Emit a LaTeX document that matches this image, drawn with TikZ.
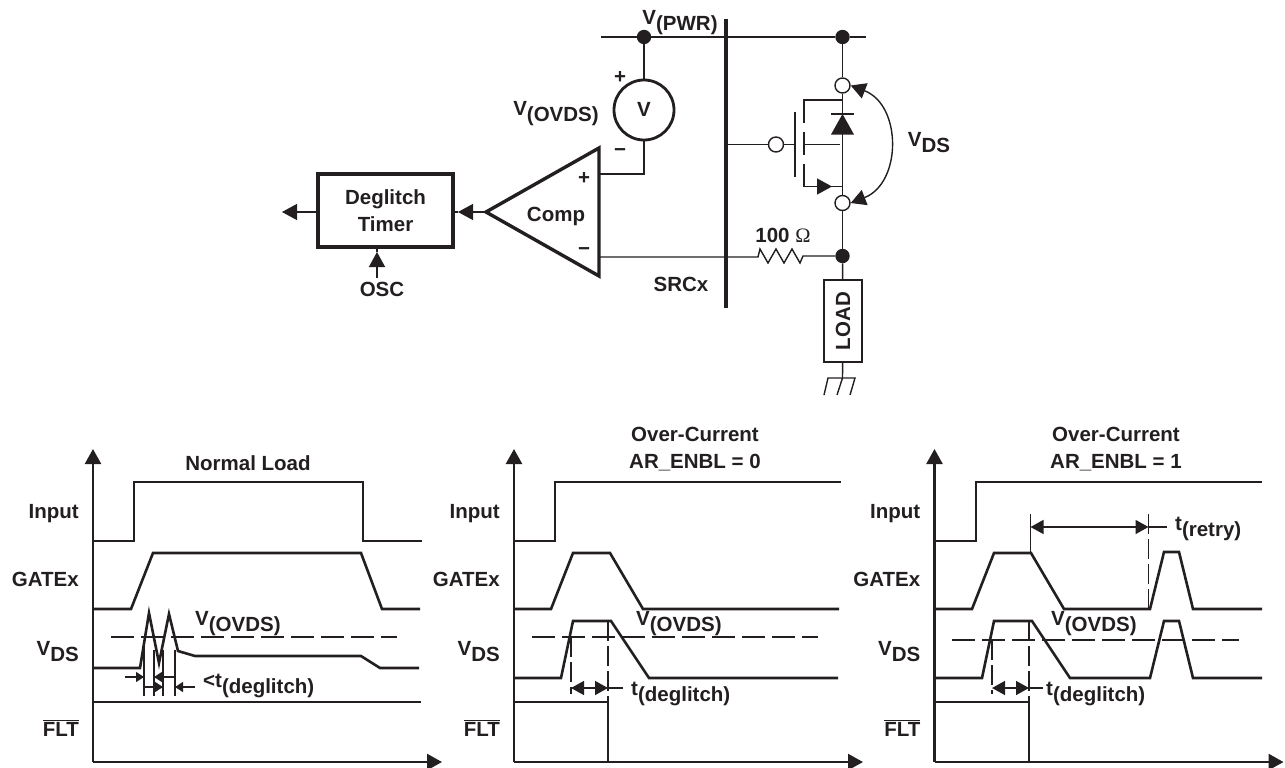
\documentclass[tikz,border=0pt]{standalone}
\usepackage{fontspec}
\setmainfont{Liberation Sans}
\newfontfamily\omegafont{Liberation Serif}
\usetikzlibrary{arrows.meta}
\usetikzlibrary{positioning}
\definecolor{ink}{HTML}{231F20}
\newcommand{\subtxt}[2]{#1\raisebox{-6pt}{#2}}
\tikzset{
  lbl/.style={inner sep=0pt, align=center, font=\fontsize{20.5}{27}\selectfont\bfseries},
  lblr/.style={lbl, anchor=east},
  lbll/.style={lbl, anchor=west},
  wire/.style={line width=1.4pt},
  wave/.style={line width=2.6pt, line join=miter},
  heavy/.style={line width=3.4pt},
  thresh/.style={line width=1.1pt, dash pattern=on 23pt off 7pt},
  guide/.style={line width=1.1pt, dash pattern=on 20pt off 5pt},
  dot/.style={circle, fill=ink, draw=none, minimum size=14.4pt, inner sep=0pt},
  hole/.style={circle, fill=white, draw=ink, line width=1.4pt, minimum size=15pt, inner sep=0pt},
  bighead/.style={-{Triangle[length=15pt,width=16pt]}},
  smallhead/.style={-{Triangle[length=8pt,width=10pt]}}
}
\begin{document}
\begin{tikzpicture}[x=1pt, y=-1pt, color=ink, text=ink]
\useasboundingbox (0,0) rectangle (1285,768);

% supply and switch
\node[dot] (pwrL) at (644,37) {};
\node[dot] (pwrR) at (842.5,37) {};
\node[hole] (drain) at (842.5,85.5) {};
\node[hole] (source) at (842.5,203) {};
\node[dot] (sense) at (842.5,256) {};
\coordinate (railL) at (601,37);
\coordinate (railR) at (866,37);
\draw[wire] (railL) -- (pwrL) -- (pwrR) -- (railR);
\draw[line width=3.6pt] (726,19) -- (726,308);
\draw[wire] (pwrR) -- (drain) -- (source) -- (sense);

% comparator
\coordinate (compTip) at (486,212);
\coordinate (compTop) at (599,148);
\coordinate (compBot) at (599,276);
\coordinate (compP) at (599,174);
\coordinate (compN) at (599,257);
\draw[heavy, line join=miter] (compTip) -- (compTop) -- (compBot) -- cycle;
\node[circle, draw, line width=2.8pt, minimum size=60pt, inner sep=0pt] (meter) at (644,110) {};
\node[lbl] (meterV) at (644,109) {V};
\draw[wire] (pwrL) -- (meter);
\draw[wire] (meter) |- (compP);

% timer block
\node[draw, heavy, minimum width=135pt, minimum height=73pt, inner sep=0pt, lbl] (timer) at (385.5,210.5) {Deglitch\\Timer};
\coordinate (timerOut) at (282,212);
\coordinate (oscIn) at (377,278);
\draw[wire, bighead] (compTip) -- (458,212);
\draw[wire] (458,212) -- (timer.east |- compTip);
\draw[wire, bighead] (timer.west |- timerOut) -- (timerOut);
\draw[wire, bighead] (oscIn) -- (377,252);
\draw[wire] (377,252) -- (377,247);

% gate and body
\node[hole] (gateC) at (776,144.5) {};
\draw[wire] (726,144.5) -- (gateC) -- (795,144.5);
\draw[wire] (795,112) -- (795,177);
\draw[wire] (804,123) -- (804,100) -- (842.5,100);
\draw[wire] (804,132) -- (804,155);
\draw[wire] (804,164) -- (804,186.5) -- (842.5,186.5);
\draw[wire] (804,144.5) -- (840,144.5);
\draw[wire, bighead] (804,186.5) -- (832,186.5);
\fill (842.5,114) -- (854,134.5) -- (831,134.5) -- cycle;
\draw[wire] (831,114) -- (854,114);
\draw[wire, {Triangle[length=15pt,width=16pt]}-{Triangle[length=15pt,width=16pt]}] (drain.east) .. controls (902,105) and (902,183) .. (source.east);

% sense resistor and load
\draw[wire] (compN) -- (758,257) -- (760,249) -- (768,263) -- (776,249) -- (784,263) -- (792,249) -- (800,263) -- (803,256) -- (sense);
\node[draw, line width=2pt, minimum width=38pt, minimum height=82pt, inner sep=0pt] (load) at (843,321) {};
\node[lbl, rotate=90] (loadT) at (843,321) {LOAD};
\draw[wire] (sense) -- (load);
\coordinate (gnd) at (842.5,378);
\draw[wire] (load) -- (gnd);
\draw[wire] (824,395) -- (828,378) -- (855,378) -- (850,395);
\draw[wire] (gnd) -- (837,395);

% circuit labels
\node[lbl] (vpwr) at (680,23) {\subtxt{V}{(PWR)}};
\node[lbl] (vovds) at (556,114) {\subtxt{V}{(OVDS)}};
\node[lbl] (vds) at (929,143) {\subtxt{V}{DS}};
\node[lbl] (plusM) at (620,77) {+};
\node[lbl] (minusM) at (620,153) {\textminus};
\node[lbl] (plusC) at (584,178) {+};
\node[lbl] (minusC) at (584,252) {\textminus};
\node[lbl] (comp) at (556,216) {Comp};
\node[lbl] (osc) at (382,289) {OSC};
\node[lbl] (res) at (783,235) {100 {\omegafont\mdseries Ω}};
\node[lbl] (srcx) at (681,284) {SRCx};

% panel axes and labels
\foreach \i/\ox in {a/93, b/514, c/934.5} {
  \draw[line width=2.4pt, bighead] (\ox,762) -- (\ox,449);
  \draw[line width=2.4pt, bighead] (\ox,762) -- (\ox+349,762);
  \node[lblr] (input\i) at (\ox-14,514) {Input};
  \node[lblr] (gatex\i) at (\ox-14,579) {GATEx};
  \node[lblr] (vds\i) at (\ox-14,652) {\subtxt{V}{DS}};
  \node[lblr] (flt\i) at (\ox-14,728) {$\overline{\mbox{FLT}}$};
}

% normal load
\node[lbl] (titleA) at (248,463) {Normal Load};
\draw[wave] (93,541) -- (134,541) -- (134,482) -- (363,482) -- (363,541) -- (422,541);
\draw[wave] (93,609) -- (131,609) -- (153,553) -- (361,553) -- (382,609) -- (420,609);
\draw[wave] (92,668) -- (140,668) -- (149,613) -- (159,663) -- (169,614) -- (178,651) -- (195,656) -- (361,656) -- (380,668) -- (419,668);
\draw[wave] (93,702) -- (421,702);
\draw[thresh] (111,637) -- (397,637);
\node[lbll] (ovdsA) at (195,624) {\subtxt{V}{(OVDS)}};
\foreach \vx/\vtop in {144/640, 154/650, 163/650, 175/650} {
  \draw[line width=1.1pt] (\vx,\vtop) -- (\vx,696);
}
\draw[line width=1.1pt, smallhead] (125,677) -- (144,677);
\draw[line width=1.1pt, smallhead] (175,677) -- (154,677);
\draw[line width=1.1pt, smallhead] (144,687) -- (163,687);
\draw[line width=1.1pt, smallhead] (195,687) -- (175,687);
\node[lbll] (dgA) at (203,686) {<\subtxt{t}{(deglitch)}};

% over current, no retry
\node[lbl] (titleB) at (695,449) {Over-Current\\AR\_ENBL = 0};
\draw[wave] (514,541) -- (555,541) -- (555,482) -- (841,482);
\draw[wave] (514,609) -- (551,609) -- (573,553) -- (610,553) -- (643,609) -- (839,609);
\draw[wave] (514,678) -- (561,678) -- (573,621) -- (611,621) -- (649,678) -- (838,678);
\draw[wave] (514,702) -- (608,702) -- (608,761);
\draw[thresh] (532,637) -- (818,637);
\node[lbll] (ovdsB) at (636,624) {\subtxt{V}{(OVDS)}};
\draw[guide] (571,637) -- (571,694);
\draw[guide] (608,621) -- (608,702);
\draw[wire] (623,688) -- (608,688);
\draw[wire, {Triangle[length=13pt,width=14pt]}-{Triangle[length=13pt,width=14pt]}] (571,688) -- (608,688);
\node[lbll] (dgB) at (631,694) {\subtxt{t}{(deglitch)}};

% over current, retry
\node[lbl] (titleC) at (1116,449) {Over-Current\\AR\_ENBL = 1};
\draw[wave] (934.5,541) -- (976,541) -- (976,482) -- (1262,482);
\draw[wave] (934.5,609) -- (972,609) -- (994,553) -- (1031,553) -- (1064,609) -- (1150,609) -- (1164,552) -- (1179,552) -- (1193,609) -- (1262,609);
\draw[wave] (934.5,678) -- (982,678) -- (994,621) -- (1032,621) -- (1070,678) -- (1150,678) -- (1164,621) -- (1179,621) -- (1193,678) -- (1262,678);
\draw[wave] (934.5,702) -- (1029,702) -- (1029,761);
\draw[thresh] (952,640) -- (1239,640);
\node[lbll] (ovdsC) at (1051,624) {\subtxt{V}{(OVDS)}};
\draw[line width=1.1pt] (1030.5,514) -- (1030.5,553);
\draw[guide] (1148.5,514) -- (1148.5,609);
\draw[wire] (1167,527) -- (1148.5,527);
\draw[wire, {Triangle[length=13pt,width=14pt]}-{Triangle[length=13pt,width=14pt]}] (1030.5,527) -- (1148.5,527);
\node[lbll] (retry) at (1175,529) {\subtxt{t}{(retry)}};
\draw[guide] (992,640) -- (992,694);
\draw[guide] (1029,621) -- (1029,702);
\draw[wire] (1043,688) -- (1029,688);
\draw[wire, {Triangle[length=13pt,width=14pt]}-{Triangle[length=13pt,width=14pt]}] (992,688) -- (1029,688);
\node[lbll] (dgC) at (1046,694) {\subtxt{t}{(deglitch)}};
\end{tikzpicture}
\end{document}
